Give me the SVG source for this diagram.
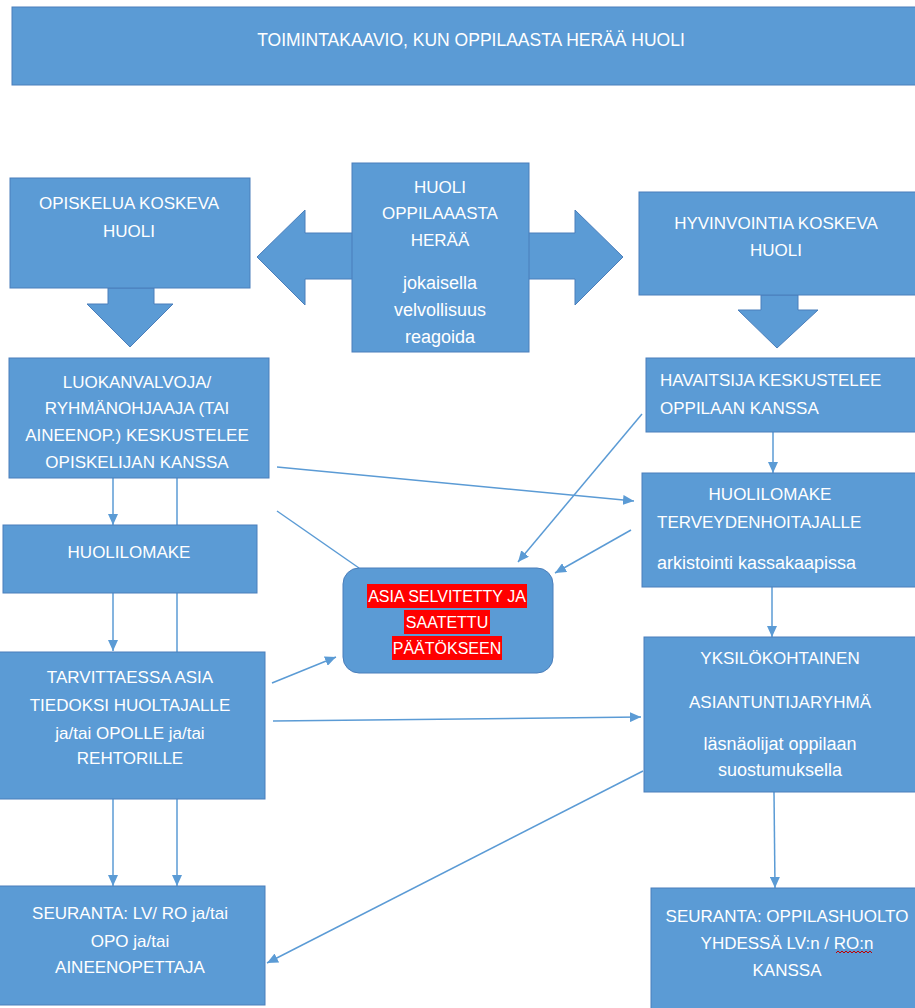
<svg xmlns="http://www.w3.org/2000/svg" width="915" height="1008" viewBox="0 0 915 1008">
<defs>
<style>
.box{fill:#5b9bd5;stroke:#4a7ebb;stroke-width:1}
.t{font-family:"Liberation Sans",Arial,sans-serif;font-size:17px;fill:#ffffff;text-anchor:middle}
.s{text-anchor:start}
.lw{font-size:18px}
.r{font-size:16px}
.ti{font-size:17.5px}
.c{stroke:#5b9bd5;stroke-width:1.5;fill:none}
.hl{fill:#ff0000}
</style>
<marker id="ah" markerUnits="userSpaceOnUse" markerWidth="11" markerHeight="10" refX="11" refY="5" orient="auto">
<path d="M0,0 L11,5 L0,10 z" fill="#5b9bd5"/>
</marker>
</defs>
<rect x="0" y="0" width="915" height="1008" fill="#ffffff"/>

<g id="connectors">
<line class="c" x1="113" y1="478" x2="113" y2="525" marker-end="url(#ah)"/>
<line class="c" x1="113" y1="593" x2="113" y2="651" marker-end="url(#ah)"/>
<line class="c" x1="113" y1="799" x2="113" y2="886" marker-end="url(#ah)"/>
<line class="c" x1="177" y1="478" x2="177" y2="886" marker-end="url(#ah)"/>
<line class="c" x1="277" y1="467" x2="634" y2="501" marker-end="url(#ah)"/>
<line class="c" x1="277" y1="511" x2="359" y2="568"/>
<line class="c" x1="642" y1="414" x2="518" y2="562" marker-end="url(#ah)"/>
<line class="c" x1="631" y1="530" x2="555" y2="573" marker-end="url(#ah)"/>
<line class="c" x1="272" y1="683" x2="336" y2="657" marker-end="url(#ah)"/>
<line class="c" x1="273" y1="721" x2="641" y2="717" marker-end="url(#ah)"/>
<line class="c" x1="643" y1="771" x2="267" y2="963" marker-end="url(#ah)"/>
<line class="c" x1="773" y1="432" x2="773" y2="473" marker-end="url(#ah)"/>
<line class="c" x1="772" y1="587" x2="772" y2="637" marker-end="url(#ah)"/>
<line class="c" x1="774" y1="792" x2="775" y2="888" marker-end="url(#ah)"/>
</g>

<g id="title">
<rect class="box" x="12" y="7" width="910" height="78"/>
<text class="t ti" x="471" y="46">TOIMINTAKAAVIO, KUN OPPILAASTA HERÄÄ HUOLI</text>
</g>

<g id="arrow-left-down">
<polygon class="box" points="108,288 154,288 154,304 173,304 130,347 87,304 108,304"/>
</g>
<g id="arrow-right-down">
<polygon class="box" points="761,295 798,295 798,310 818,310 777,348 738,310 761,310"/>
</g>
<g id="double-arrow">
<polygon class="box" points="257,257 305,210 305,233 575,233 575,210 623,257 575,305 575,279 305,279 305,305"/>
</g>

<g id="huoli-center">
<rect class="box" x="352" y="163" width="177" height="189"/>
<text class="t" x="440" y="193">HUOLI</text>
<text class="t" x="440" y="219">OPPILAAASTA</text>
<text class="t" x="440" y="246">HERÄÄ</text>
<text class="t lw" x="440" y="289">jokaisella</text>
<text class="t lw" x="440" y="316">velvollisuus</text>
<text class="t lw" x="440" y="343">reagoida</text>
</g>

<g id="opiskelua">
<rect class="box" x="10" y="178" width="240" height="110"/>
<text class="t" x="129" y="209">OPISKELUA KOSKEVA</text>
<text class="t" x="129" y="237">HUOLI</text>
</g>

<g id="hyvinvointia">
<rect class="box" x="639" y="192" width="280" height="103"/>
<text class="t" x="776" y="229">HYVINVOINTIA KOSKEVA</text>
<text class="t" x="776" y="256">HUOLI</text>
</g>

<g id="luokanvalvoja">
<rect class="box" x="9" y="358" width="260" height="120"/>
<text class="t" x="137" y="388">LUOKANVALVOJA/</text>
<text class="t" x="137" y="414">RYHMÄNOHJAAJA (TAI</text>
<text class="t" x="137" y="441">AINEENOP.) KESKUSTELEE</text>
<text class="t" x="137" y="468">OPISKELIJAN KANSSA</text>
</g>

<g id="havaitsija">
<rect class="box" x="646" y="358" width="273" height="74"/>
<text class="t s" x="660" y="386">HAVAITSIJA KESKUSTELEE</text>
<text class="t s" x="660" y="414">OPPILAAN KANSSA</text>
</g>

<g id="huolilomake-left">
<rect class="box" x="3" y="525" width="254" height="68"/>
<text class="t" x="129" y="558">HUOLILOMAKE</text>
</g>

<g id="huolilomake-right">
<rect class="box" x="642" y="473" width="277" height="114"/>
<text class="t" x="770" y="500">HUOLILOMAKE</text>
<text class="t s" x="657" y="528">TERVEYDENHOITAJALLE</text>
<text class="t s lw" x="657" y="569">arkistointi kassakaapissa</text>
</g>

<g id="asia-selvitetty">
<rect class="box" x="343" y="568" width="210" height="105" rx="16" ry="16"/>
<rect class="hl" x="367" y="584" width="160" height="24"/>
<rect class="hl" x="404" y="610" width="86" height="24"/>
<rect class="hl" x="392" y="636" width="110" height="24"/>
<text class="t r" x="447" y="602">ASIA SELVITETTY JA</text>
<text class="t r" x="447" y="628">SAATETTU</text>
<text class="t r" x="447" y="654">PÄÄTÖKSEEN</text>
</g>

<g id="tarvittaessa">
<rect class="box" x="-1" y="652" width="266" height="147"/>
<text class="t" x="130" y="683">TARVITTAESSA ASIA</text>
<text class="t" x="130" y="711">TIEDOKSI HUOLTAJALLE</text>
<text class="t" x="130" y="739">ja/tai OPOLLE ja/tai</text>
<text class="t" x="130" y="764">REHTORILLE</text>
</g>

<g id="yksilokohtainen">
<rect class="box" x="644" y="637" width="275" height="155"/>
<text class="t" x="780" y="664">YKSILÖKOHTAINEN</text>
<text class="t" x="780" y="708">ASIANTUNTIJARYHMÄ</text>
<text class="t lw" x="780" y="750">läsnäolijat oppilaan</text>
<text class="t lw" x="780" y="776">suostumuksella</text>
</g>

<g id="seuranta-left">
<rect class="box" x="-1" y="886" width="266" height="119"/>
<text class="t" x="130" y="919">SEURANTA: LV/ RO ja/tai</text>
<text class="t" x="130" y="947">OPO ja/tai</text>
<text class="t" x="130" y="973">AINEENOPETTAJA</text>
</g>

<g id="seuranta-right">
<rect class="box" x="651" y="888" width="268" height="125"/>
<text class="t" x="787" y="922">SEURANTA: OPPILASHUOLTO</text>
<text class="t" x="787" y="949">YHDESSÄ LV:n / RO:n</text>
<text class="t" x="787" y="976">KANSSA</text>
<path d="M836,953 l2,-2 l2,2 l2,-2 l2,2 l2,-2 l2,2 l2,-2 l2,2 l2,-2 l2,2 l2,-2 l2,2 l2,-2 l2,2 l2,-2 l2,2 l2,-2 l2,2" fill="none" stroke="#c00000" stroke-width="1"/>
</g>
</svg>
